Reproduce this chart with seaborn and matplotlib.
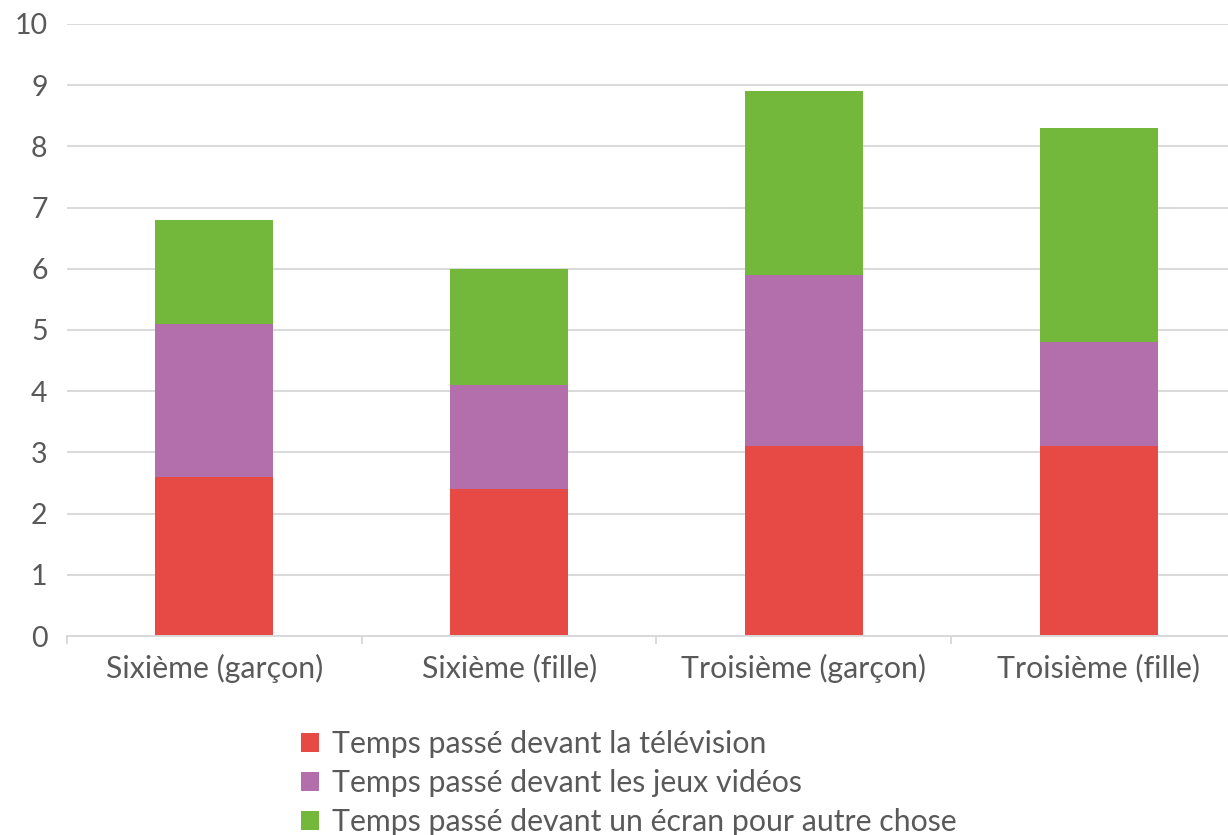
import matplotlib
matplotlib.use("Agg")
import matplotlib.pyplot as plt
import seaborn as sns
import pandas as pd
import numpy as np
from matplotlib.patches import Patch

categories = ["Sixième (garçon)", "Sixième (fille)", "Troisième (garçon)", "Troisième (fille)"]
tv = [2.6, 2.4, 3.1, 3.1]
jeux = [2.5, 1.7, 2.8, 1.7]
autre = [1.7, 1.9, 3.0, 3.5]
series_names = ["Temps passé devant la télévision",
                "Temps passé devant les jeux vidéos",
                "Temps passé devant un écran pour autre chose"]
colors = ["#E74A45", "#B36FAC", "#73B73B"]

sns.set_theme(style="white")
plt.rcParams['font.family'] = ['Lato', 'DejaVu Sans']
text_color = "#595959"
fs = 21.8

fig = plt.figure(figsize=(12.28, 8.35), dpi=100)
ax = fig.add_axes([0.0546, 0.2383, 0.96, 0.733])

df = pd.DataFrame({"cat": categories, "tv": tv, "jeux": jeux, "autre": autre})
bottom = np.zeros(len(categories))
for col, c in zip(["tv", "jeux", "autre"], colors):
    sns.barplot(data=df, x="cat", y=col, color=c, width=0.40, bottom=bottom,
                ax=ax, saturation=1, edgecolor="none", linewidth=0)
    bottom = bottom + df[col].values

ax.set_ylim(0, 10)
ax.set_xlim(-0.5, 3.5)
ax.set_yticks(range(0, 11))
ax.yaxis.grid(True, color="#D9D9D9", linewidth=1.4)
ax.set_axisbelow(True)
for s in ["top", "right", "left"]:
    ax.spines[s].set_visible(False)
ax.spines["bottom"].set_color("#D9D9D9")
ax.spines["bottom"].set_linewidth(1.4)
ax.set_xlabel("")
ax.set_ylabel("")
ax.tick_params(axis="y", length=0, pad=14, labelsize=20.5, labelcolor=text_color)
ax.tick_params(axis="x", which="major", length=0, pad=13, labelsize=fs, labelcolor=text_color)
ax.set_xticks([-0.5, 0.5, 1.5, 2.5, 3.5], minor=True)
ax.tick_params(axis="x", which="minor", length=6, width=1.4, color="#D9D9D9", bottom=True)

handles = [Patch(facecolor=c, edgecolor="none") for c in colors]
fig.legend(handles, series_names, loc="upper center", bbox_to_anchor=(0.512, 0.14),
           frameon=False, ncol=1, fontsize=fs, labelcolor=text_color,
           handlelength=0.6, handleheight=0.6, handletextpad=0.4, labelspacing=0.36,
           borderaxespad=0)

fig.savefig("out.png", dpi=100)
